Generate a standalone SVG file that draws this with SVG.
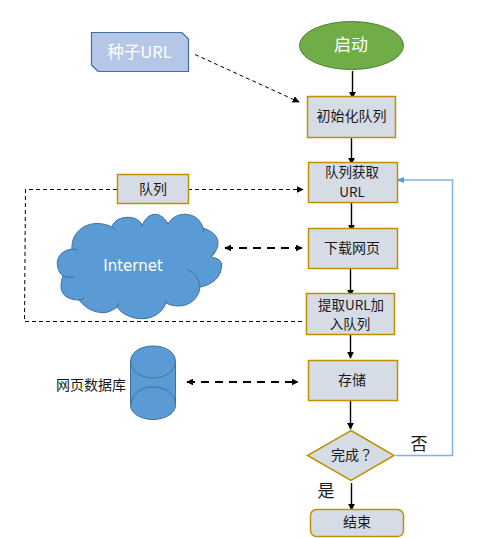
<svg xmlns="http://www.w3.org/2000/svg" width="501" height="538" viewBox="0 0 501 538">
<style>
text{font-family:"Noto Sans CJK SC","Liberation Sans",sans-serif;text-anchor:middle;font-size:14px;fill:#1a1a1a}
text.w{fill:#fff}
text.m{font-size:13.500px}
.b{fill:#d6dce5;stroke:#bf9000;stroke-width:1.500}
.c{fill:#5b9bd5;stroke:#41719c;stroke-width:1}
.l{fill:none;stroke:#000;stroke-width:1.400}
.d{fill:none;stroke:#000;stroke-width:1;stroke-dasharray:4 3}
.t{fill:none;stroke:#000;stroke-width:2;stroke-dasharray:8 6}
</style>
<defs>
<marker id="a" viewBox="0 0 10 10" refX="9" refY="5" markerWidth="7" markerHeight="7" markerUnits="userSpaceOnUse" orient="auto-start-reverse"><path d="M0 0L10 5L0 10Z" fill="#000"/></marker>
</defs>
<g id="connectors">
<path class="l" d="M352.500 71V98" marker-end="url(#a)"/>
<path class="l" d="M351.500 136V164" marker-end="url(#a)"/>
<path class="l" d="M351.500 202V231" marker-end="url(#a)"/>
<path class="l" d="M350.500 268V296" marker-end="url(#a)"/>
<path class="l" d="M350.500 331V358" marker-end="url(#a)"/>
<path class="l" d="M350.500 400V429" marker-end="url(#a)"/>
<path class="l" d="M351.500 483V510" marker-end="url(#a)"/>
<path class="d" d="M195 54.500L299 102" marker-end="url(#a)"/>
<path class="d" d="M188 189.500H303" marker-end="url(#a)"/>
<path class="d" d="M117 189.500H25.500L24.500 321.500H302"/>
<path class="t" d="M225 248H302" marker-start="url(#a)" marker-end="url(#a)"/>
<path class="t" d="M187 382H298" marker-start="url(#a)" marker-end="url(#a)"/>
<path d="M396 455.500H452.500V180H397" fill="none" stroke="#82b1de" stroke-width="1.500"/>
<path d="M404 177L396 180L404 183Z" fill="#5b9bd5"/>
</g>
<g id="seed"><path d="M91.500 32.500H182L188.500 39V71.500H98L91.500 65Z" fill="#b4c7e7" stroke="#41719c" stroke-width="1.200"/><text class="w" x="139.500" y="58" style="font-size:16.500px">种子URL</text></g>
<g id="start"><ellipse cx="351.500" cy="45.500" rx="52" ry="24" fill="#70ad47" stroke="#507e32"/><text class="w" x="351" y="51" style="font-size:17px">启动</text></g>
<g id="init"><rect class="b" x="307.500" y="96.500" width="88" height="41"/><text x="351.500" y="121">初始化队列</text></g>
<g id="fetch"><rect class="b" x="308.500" y="162.500" width="89" height="40"/><text class="m" x="352" y="177">队列获取<tspan x="352" dy="19.700">URL</tspan></text></g>
<g id="queue"><rect class="b" x="117.500" y="174.500" width="71" height="29"/><text x="153" y="194">队列</text></g>
<g id="download"><rect class="b" x="308.500" y="228.500" width="89" height="40"/><text x="352" y="253">下载网页</text></g>
<g id="extract"><rect class="b" x="306.500" y="293.500" width="88" height="41"/><text class="m" x="351" y="309.500">提取URL加<tspan x="350" dy="19.700">入队列</tspan></text></g>
<g id="store"><rect class="b" x="308.500" y="360.500" width="89" height="40"/><text x="352" y="385">存储</text></g>
<g id="done"><path class="b" d="M351 430.500L394 455.500L351 480.500L307.500 455.500Z"/><text x="352" y="460" style="font-family:'Noto Sans CJK TC',sans-serif">完成？</text></g>
<text x="419" y="450" style="font-size:17px">否</text>
<text x="326" y="497" style="font-size:17px">是</text>
<g id="end"><rect class="b" x="310.500" y="509.500" width="93" height="27" rx="6"/><text x="357" y="527">结束</text></g>
<g id="internet"><path class="c" d="M72 249C71 233 84 223.500 97 223.500C103 223.500 108 225 112 227C114 220 121 217.300 128 217.300C135 217.300 140 220 142 226C145 218 150 214.300 155 214.300C160 214.300 165 218 168 224C172 217 178 214.300 185 214.300C194 214.300 201 220 203 228C212 231 218 236 218 243C218 248 215 253 211 257C218 258 221.700 261 221.700 265C221.700 277 212 285 200 287C199 298 190 306 178.500 306C174 306 170 305 166 303C162 313 153 318.700 142 318.700C131 318.700 122 314 117 307C113 310 108 312.700 104 312.700C94 312.700 85 308 79 300C68 300 61 295 61 286C61 282 62 278 63 276C59 273 57.300 268 57.300 263C57.300 255 64 250 72 249Z"/><path d="M72 249Q75 249 78 250M63 276Q69 278 75 277M79 300Q82 300 84 298M112 227Q113 228 116 230.500M142 226L141 223M168 224L167 222M203 228L204 232M211 257L215 252M187 269.500A20 20 0 0 1 200 287M166 303L166 300M117 307L119 303" fill="none" stroke="#41719c"/><text class="w" x="133" y="271" style="font-size:15px;font-family:'DejaVu Sans',sans-serif">Internet</text></g>
<g id="db"><path class="c" d="M130.500 362C130.500 351 142 346 153 346C164 346 175.500 351 175.500 362V405C175.500 414 164 419.500 153 419.500C142 419.500 130.500 414 130.500 405Z"/><path d="M130.500 361C130.500 372 142 378 153 378C164 378 175.500 372 175.500 361M131.500 404C131.500 393 142 387 153 387C164 387 175.500 393 175.500 404" fill="none" stroke="#41719c"/><text x="91" y="390">网页数据库</text></g>
</svg>
